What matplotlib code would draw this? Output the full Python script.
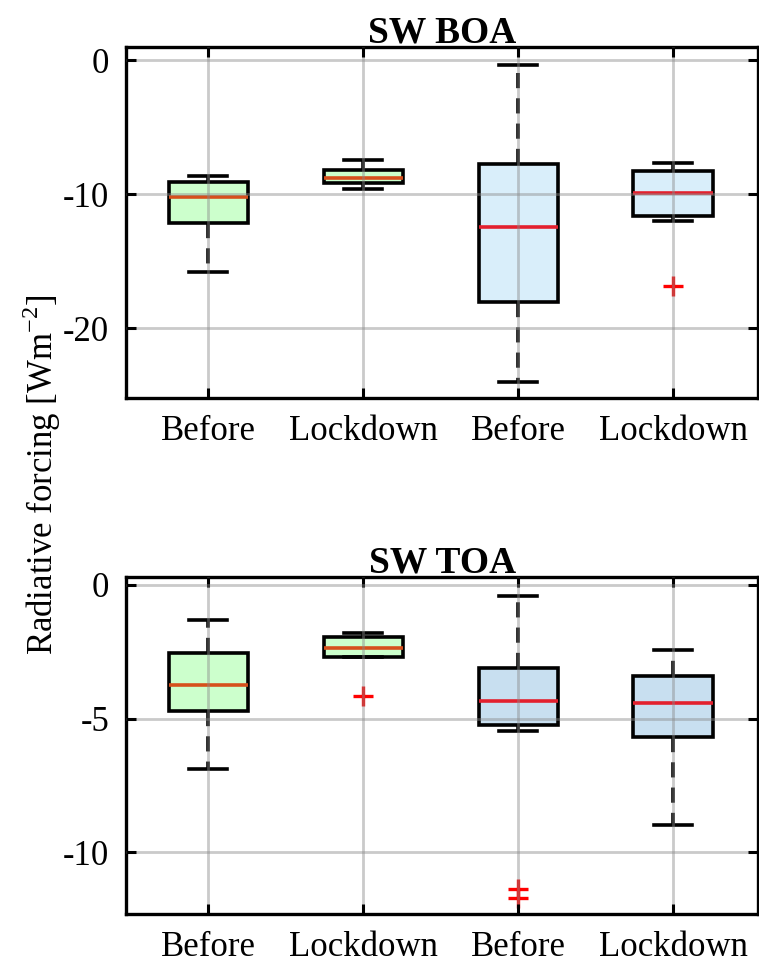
import matplotlib
matplotlib.use("Agg")
from matplotlib import pyplot as plt

plt.rcParams["font.family"] = ["Liberation Serif", "DejaVu Serif"]
plt.rcParams["axes.unicode_minus"] = False
plt.rcParams["mathtext.fontset"] = "custom"
plt.rcParams["mathtext.rm"] = "Liberation Serif"

# group labels
labels = ["Before", "Lockdown", "Before", "Lockdown"]

# SW BOA statistics: lower whisker, q1, median, q3, upper whisker
boa_whislo = [-15.8, -9.6, -24.0, -12.0]
boa_q1 = [-12.15, -9.17, -18.0, -11.58]
boa_med = [-10.2, -8.77, -12.42, -9.89]
boa_q3 = [-9.07, -8.2, -7.73, -8.27]
boa_whishi = [-8.65, -7.45, -0.32, -7.65]
boa_fliers = [[], [], [], [-16.8]]

# SW TOA statistics
toa_whislo = [-6.89, -2.70, -5.47, -8.98]
toa_q1 = [-4.72, -2.70, -5.25, -5.70]
toa_med = [-3.75, -2.35, -4.35, -4.42]
toa_q3 = [-2.54, -1.95, -3.12, -3.41]
toa_whishi = [-1.31, -1.79, -0.42, -2.43]
toa_fliers = [[], [-4.15], [-11.38, -11.69], []]

boa_faces = ["#ccffcc", "#ccffcc", "#d9eefa", "#d9eefa"]
toa_faces = ["#ccffcc", "#ccffcc", "#c8dff0", "#c8dff0"]
median_colors = ["#d6501c", "#d6501c", "#e3202e", "#e3202e"]


def make_stats(whislo, q1, med, q3, whishi, fliers):
    stats = []
    for i in range(len(med)):
        stats.append(dict(whislo=whislo[i], q1=q1[i], med=med[i], q3=q3[i],
                          whishi=whishi[i], fliers=fliers[i]))
    return stats


def draw_panel(ax, stats, faces, title, ylim, yticks):
    positions = list(range(1, len(stats) + 1))
    bp = ax.bxp(stats, positions=positions, widths=0.51, patch_artist=True,
                showfliers=True, zorder=2,
                boxprops=dict(edgecolor="black", linewidth=2.6),
                whiskerprops=dict(color="black", linewidth=2.6, linestyle=(0, (4.2, 2.8))),
                capprops=dict(color="black", linewidth=2.6),
                capwidths=0.25,
                flierprops=dict(marker="+", markeredgecolor="red", markersize=15,
                                markeredgewidth=2.4, linestyle="none"))
    for patch, face in zip(bp["boxes"], faces):
        patch.set_facecolor(face)
    for line, col in zip(bp["medians"], median_colors):
        line.set_color(col)
        line.set_linewidth(2.6)

    ax.set_xlim(0.47, 4.55)
    ax.set_ylim(*ylim)
    ax.set_yticks(yticks)
    ax.set_xticks(positions)
    ax.set_xticklabels(labels)
    ax.set_axisbelow(False)
    ax.grid(True, color="#8a8a8a", alpha=0.45, linewidth=2.0, zorder=3)
    ax.tick_params(direction="in", length=7, width=2.2, top=True, right=True,
                   labelsize=25, pad=12)
    for spine in ax.spines.values():
        spine.set_linewidth(2.4)
    ax.set_title(title, fontsize=27, fontweight="bold", pad=3)


def main():
    fig = plt.figure(figsize=(7.59, 9.64), dpi=100)
    ax_top = fig.add_axes([0.166, 0.5871, 0.833, 0.3641])
    ax_bot = fig.add_axes([0.166, 0.0519, 0.833, 0.3496])

    draw_panel(ax_top, make_stats(boa_whislo, boa_q1, boa_med, boa_q3, boa_whishi, boa_fliers),
               boa_faces, "SW BOA", (-25.2, 1.0), [-20, -10, 0])
    draw_panel(ax_bot, make_stats(toa_whislo, toa_q1, toa_med, toa_q3, toa_whishi, toa_fliers),
               toa_faces, "SW TOA", (-12.3, 0.3), [-10, -5, 0])

    fig.text(0.055, 1 - 475 / 964, r"Radiative forcing [Wm$^{\mathregular{-2}}$]",
             rotation=90, va="center", ha="center", fontsize=25)

    fig.savefig("out.png", dpi=100)


if __name__ == "__main__":
    main()
